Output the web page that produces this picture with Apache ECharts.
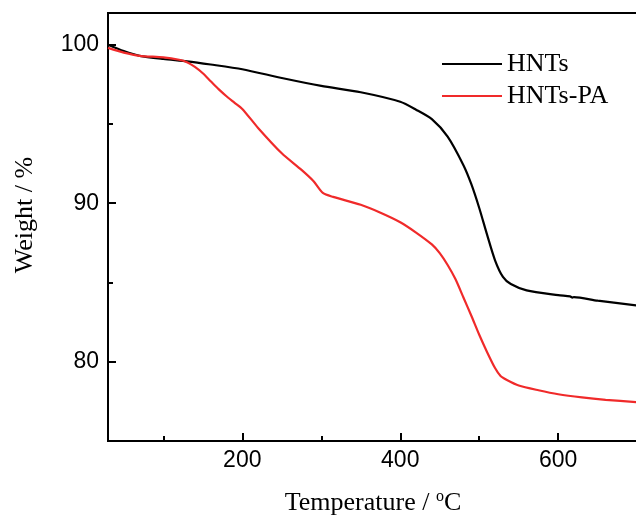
<!DOCTYPE html>
<html>
<head>
<meta charset="utf-8">
<script src="https://cdn.jsdelivr.net/npm/echarts@6/dist/echarts.min.js"></script>
<style>
  html, body { margin: 0; padding: 0; background: #fff; }
  #main { width: 636px; height: 519px; }
</style>
</head>
<body>
<div id="main"></div>
<script>
// 温度 (°C) 与失重数据
const tempHNTs = [30, 50, 70, 100, 130, 160, 200, 250, 300, 350, 400, 420, 440, 460, 480, 490, 500, 510, 520, 530, 540, 560, 600, 615, 618, 620, 650, 700];
const weightHNTs = [100.0, 99.6, 99.3, 99.1, 98.95, 98.75, 98.45, 97.9, 97.4, 97.0, 96.4, 95.9, 95.3, 94.2, 92.4, 91.2, 89.7, 88.0, 86.4, 85.35, 84.9, 84.5, 84.2, 84.12, 84.05, 84.08, 83.85, 83.55];

const tempPA = [30, 50, 70, 100, 120, 130, 140, 150, 160, 170, 180, 190, 200, 220, 250, 275, 290, 302, 315, 350, 375, 400, 420, 440, 450, 460, 470, 480, 490, 500, 510, 520, 527, 535, 550, 575, 600, 630, 660, 700];
const weightPA = [99.8, 99.5, 99.3, 99.2, 99.05, 98.9, 98.6, 98.2, 97.7, 97.2, 96.75, 96.35, 95.95, 94.75, 93.15, 92.1, 91.4, 90.65, 90.4, 89.9, 89.4, 88.8, 88.15, 87.4, 86.85, 86.1, 85.2, 84.05, 82.9, 81.7, 80.6, 79.6, 79.1, 78.85, 78.5, 78.2, 77.95, 77.75, 77.6, 77.45];

const xMajor = [200, 400, 600];
const xMinor = [100, 300, 500, 700];
const yMajor = [80, 90, 100];
const yMinor = [85, 95];

const chart = echarts.init(document.getElementById('main'));

const serif = 'Liberation Serif';
const sans = 'Liberation Sans';

function pairs(xs, ys) {
    return xs.map((x, i) => [x, ys[i]]);
}

const option = {
    animation: false,
    grid: {
        left: 108,
        top: 13,
        width: 530,
        height: 428,
        outerBoundsMode: 'none',
        show: true,
        borderColor: '#000',
        borderWidth: 2
    },
    legend: {
        orient: 'vertical',
        left: 437,
        top: 46,
        icon: 'rect',
        itemWidth: 60,
        itemHeight: 2,
        itemGap: 6,
        textStyle: { fontFamily: serif, fontSize: 26, color: '#000', lineHeight: 26 },
        data: ['HNTs', 'HNTs-PA']
    },
    xAxis: [
        {
            type: 'value',
            min: 30,
            max: 701,
            name: 'Temperature / {sup|o}C',
            nameLocation: 'middle',
            nameGap: 48,
            nameTextStyle: {
                fontFamily: serif, fontSize: 26, color: '#000',
                rich: { sup: { fontFamily: serif, fontSize: 16, color: '#000', verticalAlign: 'top', padding: [0, 0, 12, 0] } }
            },
            splitLine: { show: false },
            axisLine: { lineStyle: { color: '#000', width: 2 } },
            axisTick: { inside: true, length: 8, lineStyle: { color: '#000', width: 2 }, customValues: xMajor },
            axisLabel: { margin: 8, fontFamily: sans, fontSize: 23, color: '#000', customValues: xMajor }
        },
        {
            type: 'value',
            min: 30,
            max: 701,
            position: 'bottom',
            splitLine: { show: false },
            axisLine: { show: false },
            axisTick: { inside: true, length: 5, lineStyle: { color: '#000', width: 2 }, customValues: xMinor },
            axisLabel: { show: false }
        }
    ],
    yAxis: [
        {
            type: 'value',
            min: 75,
            max: 102,
            name: 'Weight / %',
            nameLocation: 'middle',
            nameGap: 70,
            nameTextStyle: { fontFamily: serif, fontSize: 26, color: '#000', padding: [0, 0, 0, 24] },
            splitLine: { show: false },
            axisLine: { show: true, lineStyle: { color: '#000', width: 2 } },
            axisTick: { show: true, inside: true, length: 8, lineStyle: { color: '#000', width: 2 }, customValues: yMajor },
            axisLabel: { margin: 9, fontFamily: sans, fontSize: 23, color: '#000', customValues: yMajor }
        },
        {
            type: 'value',
            min: 75,
            max: 102,
            position: 'left',
            splitLine: { show: false },
            axisLine: { show: false },
            axisTick: { show: true, inside: true, length: 5, lineStyle: { color: '#000', width: 2 }, customValues: yMinor },
            axisLabel: { show: false }
        }
    ],
    series: [
        {
            name: 'HNTs',
            type: 'line',
            symbol: 'none',
            smooth: 0.25,
            color: '#000',
            lineStyle: { color: '#000', width: 2.2 },
            data: pairs(tempHNTs, weightHNTs)
        },
        {
            name: 'HNTs-PA',
            type: 'line',
            symbol: 'none',
            smooth: 0.25,
            color: '#f02a2a',
            lineStyle: { color: '#f02a2a', width: 2.2 },
            data: pairs(tempPA, weightPA)
        }
    ]
};

chart.setOption(option);
window.addEventListener('resize', function () {
    chart.resize();
});
</script>
</body>
</html>
